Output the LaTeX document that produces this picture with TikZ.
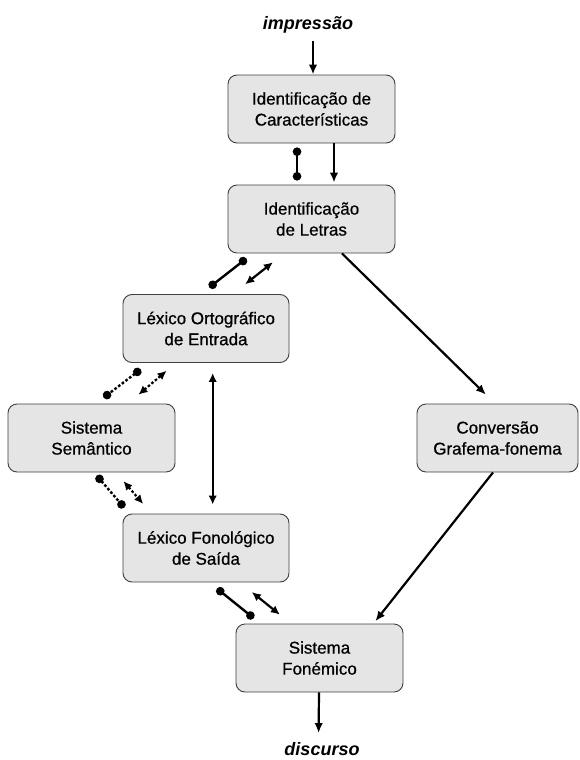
\documentclass[tikz,border=0pt]{standalone}
\usepackage{fontspec}
\setmainfont{Liberation Sans}
\newfontfamily\stagefont{Liberation Sans}[FakeBold=0.7]
\usetikzlibrary{arrows.meta}
\begin{document}
\begin{tikzpicture}[x=1pt,y=-1pt,
  stage/.style={draw=black!75, line width=0.9pt, fill=black!10, rounded corners=9pt,
    minimum height=68pt, inner sep=0pt, align=center,
    font=\stagefont\fontsize{17}{21}\selectfont},
  termtext/.style={inner sep=0pt, anchor=base, font=\fontsize{18}{21}\selectfont\bfseries\itshape},
  flow/.style={line width=2.2pt, -{Latex[length=10pt,width=8.5pt]}},
  flowboth/.style={line width=2.2pt, {Latex[length=9pt,width=8.5pt]}-{Latex[length=9pt,width=8.5pt]}},
  link/.style={line width=2.4pt, {Circle[length=8.5pt]}-{Circle[length=8.5pt]}},
  loose/.style={dash pattern=on 2.6pt off 2pt}
]
\path[fill=white, use as bounding box] (0,0) rectangle (579,760);

% processing stages
\node[stage, minimum width=167pt] (feat)     at (311.5,109) {Identificação de\\Características};
\node[stage, minimum width=167pt] (letters)  at (311.5,219) {Identificação\\de Letras};
\node[stage, minimum width=166pt] (orth)     at (206,328.5) {Léxico Ortográfico\\de Entrada};
\node[stage, minimum width=167pt] (sem)      at (91.5,438)  {Sistema\\Semântico};
\node[stage, minimum width=161pt] (gpc)      at (497.5,438) {Conversão\\Grafema-fonema};
\node[stage, minimum width=166pt] (phonlex)  at (206,548)   {Léxico Fonológico\\de Saída};
\node[stage, minimum width=167pt] (phonemic) at (319.5,658) {Sistema\\Fonémico};

% input and output
\node[termtext] (imp)  at (308,30)  {impressão};
\node[termtext] (disc) at (322,755) {discurso};

% main route
\draw[flow, shorten <=7pt] ([xshift=5pt]imp.south) -- ([xshift=1.5pt]feat.north);
\draw[flow, shorten >=2pt] ([xshift=22.5pt]feat.south) -- ([xshift=22.5pt]letters.north);
\draw[link, shorten <=4pt, shorten >=4pt] ([xshift=-14.5pt]feat.south) -- ([xshift=-14.5pt]letters.north);
\draw[flow, shorten >=12.7pt] ([xshift=30.5pt]letters.south) -- ([xshift=-2.5pt]gpc.north);
\draw[flow, shorten >=3pt] ([xshift=-4.5pt]gpc.south) -- ([xshift=54pt]phonemic.north);
\draw[flow, shorten >=8.7pt] ([xshift=-0.5pt]phonemic.south) -- ([xshift=-3.5pt]disc.north);

% lexical route
\draw[link, shorten <=8.2pt, shorten >=10.8pt] ([xshift=-58.7pt]letters.south) -- ([xshift=-5.2pt]orth.north);
\draw[flowboth, shorten <=14.2pt, shorten >=15.8pt] ([xshift=-27.5pt]letters.south) -- ([xshift=26.8pt]orth.north);
\draw[flowboth, shorten <=10pt, shorten >=9pt] ([xshift=6.7pt]orth.south) -- ([xshift=6.7pt]phonlex.north);
\draw[link, shorten <=9.7pt, shorten >=8.6pt] ([xshift=3.4pt]phonlex.south) -- ([xshift=-59.1pt]phonemic.north);
\draw[flowboth, shorten <=15.3pt, shorten >=14.2pt] ([xshift=33.9pt]phonlex.south) -- ([xshift=-28.6pt]phonemic.north);

% semantic links
\draw[link, loose, shorten <=10.5pt, shorten >=9.7pt] ([xshift=-57pt]orth.south) -- ([xshift=4.5pt]sem.north);
\draw[flowboth, loose, shorten <=12.1pt, shorten >=13.6pt] ([xshift=-30.2pt]orth.south) -- ([xshift=36.6pt]sem.north);
\draw[link, loose, shorten <=4.2pt, shorten >=7.8pt] ([xshift=2.5pt]sem.south) -- ([xshift=-76.7pt]phonlex.north);
\draw[flowboth, loose, shorten <=11.4pt, shorten >=12.7pt] ([xshift=24.4pt]sem.south) -- ([xshift=-54.5pt]phonlex.north);
\end{tikzpicture}
\end{document}
